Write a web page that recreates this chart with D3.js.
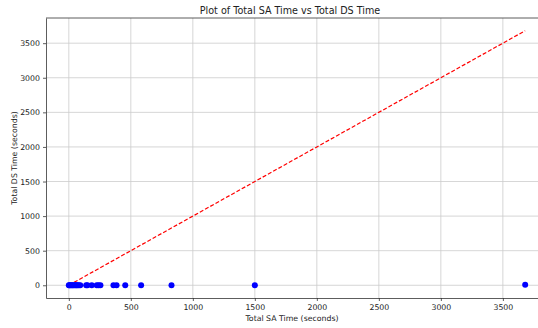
<!DOCTYPE html>
<html>
<head>
<meta charset="utf-8">
<script src="https://cdn.jsdelivr.net/npm/d3@7"></script>
<style>
  body { margin: 0; background: #fff; }
  svg { display: block; overflow: hidden; font-family: "DejaVu Sans", sans-serif; }
</style>
</head>
<body>
<svg id="chart" width="538" height="328"></svg>
<script>
// total SA time (x) and total DS time (y), seconds
const saTimes = [0, 5, 12, 20, 28, 35, 45, 55, 62, 70, 80, 92, 140, 150, 185, 225, 240, 255, 360, 385, 455, 583, 828, 1500, 3680];
const dsTimes = [0, 0, 0, 0, 0, 0, 0, 0, 0, 0, 0, 0, 0, 0, 0, 0, 0, 0, 2, 0, 0, 0, 0, 0, 8];
const xTicks = [0, 500, 1000, 1500, 2000, 2500, 3000, 3500];
const yTicks = [0, 500, 1000, 1500, 2000, 2500, 3000, 3500];
const refLine = [0, 3680];

const svg = d3.select('#chart');
const margin = { top: 18, right: -10, bottom: 30, left: 46 };
const width = 538, height = 328;

const x = d3.scaleLinear().domain([-184, 3864]).range([margin.left, width - margin.right]);
const y = d3.scaleLinear().domain([-184, 3864]).range([height - margin.bottom, margin.top]);

// grid
svg.append('g').selectAll('line').data(xTicks).enter().append('line')
  .attr('x1', d => x(d)).attr('x2', d => x(d))
  .attr('y1', margin.top).attr('y2', height - margin.bottom)
  .attr('stroke', '#cbcbcb').attr('stroke-width', 0.8);
svg.append('g').selectAll('line').data(yTicks).enter().append('line')
  .attr('x1', margin.left).attr('x2', width - margin.right)
  .attr('y1', d => y(d)).attr('y2', d => y(d))
  .attr('stroke', '#cbcbcb').attr('stroke-width', 0.8);

// axes
const xAxis = svg.append('g')
  .attr('transform', 'translate(0,' + (height - margin.bottom) + ')')
  .call(d3.axisBottom(x).tickValues(xTicks).tickFormat(d3.format('d')).tickSize(3).tickPadding(3).tickSizeOuter(0));
const yAxis = svg.append('g')
  .attr('transform', 'translate(' + margin.left + ',0)')
  .call(d3.axisLeft(y).tickValues(yTicks).tickFormat(d3.format('d')).tickSize(3).tickPadding(3).tickSizeOuter(0));
[xAxis, yAxis].forEach(a => {
  a.selectAll('text').style('font-family', '"DejaVu Sans"').style('font-size', '7.8px').attr('fill', '#222');
  a.selectAll('line').attr('stroke', '#333').attr('stroke-width', 0.8);
  a.select('.domain').attr('stroke', '#333').attr('stroke-width', 0.8);
});

// top spine
svg.append('line')
  .attr('x1', margin.left).attr('x2', width - margin.right)
  .attr('y1', margin.top).attr('y2', margin.top)
  .attr('stroke', '#333').attr('stroke-width', 0.8);

// reference line y = x
svg.append('path')
  .attr('d', d3.line().x(d => x(d)).y(d => y(d))(refLine))
  .attr('fill', 'none')
  .attr('stroke', 'red')
  .attr('stroke-width', 1.2)
  .attr('stroke-dasharray', '4,2');

// points
svg.append('g').selectAll('circle').data(saTimes).enter().append('circle')
  .attr('cx', d => x(d))
  .attr('cy', (d, i) => y(dsTimes[i]))
  .attr('r', 3)
  .attr('fill', 'blue');

// title and labels
svg.append('text')
  .attr('x', 290).attr('y', 14)
  .attr('text-anchor', 'middle')
  .style('font-size', '9.6px').attr('fill', '#222')
  .text('Plot of Total SA Time vs Total DS Time');
svg.append('text')
  .attr('x', 292).attr('y', 321)
  .attr('text-anchor', 'middle')
  .style('font-size', '7.8px').attr('fill', '#222')
  .text('Total SA Time (seconds)');
svg.append('text')
  .attr('transform', 'translate(17,' + ((margin.top + height - margin.bottom) / 2) + ') rotate(-90)')
  .attr('text-anchor', 'middle')
  .style('font-size', '7.8px').attr('fill', '#222')
  .text('Total DS Time (seconds)');
</script>
</body>
</html>
